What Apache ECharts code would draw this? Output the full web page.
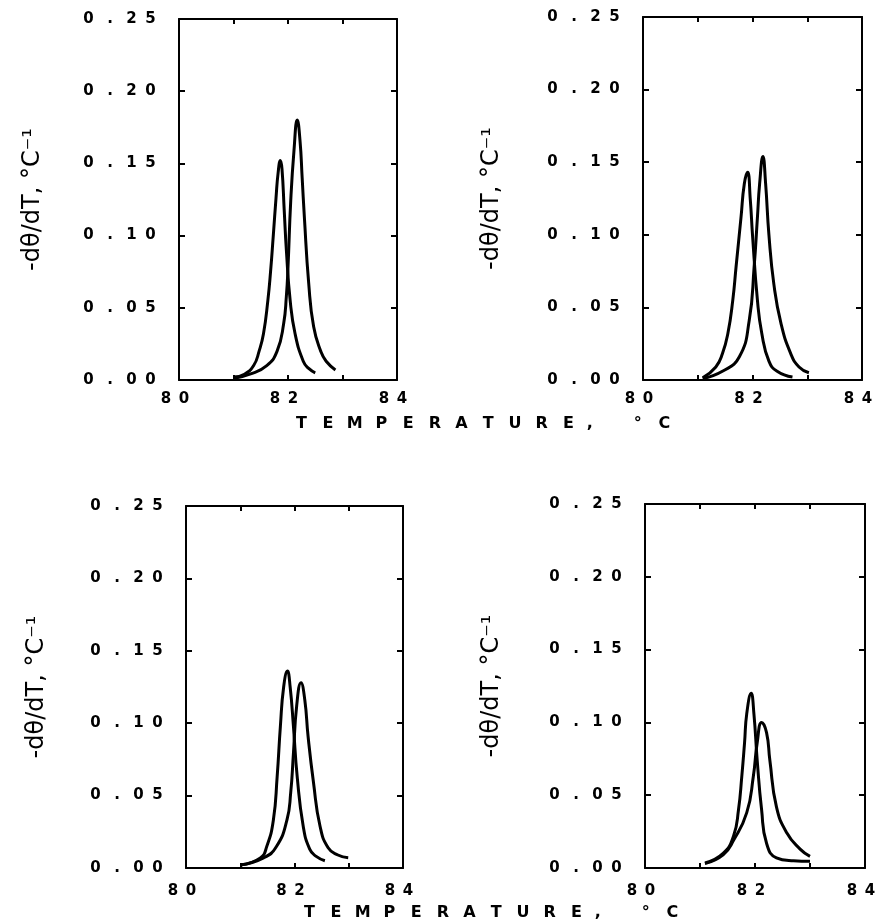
<!DOCTYPE html>
<html>
<head>
<meta charset="utf-8">
<script src="https://cdn.jsdelivr.net/npm/echarts@6/dist/echarts.min.js"></script>
<style>
  html, body { margin: 0; padding: 0; background: #fff; }
  #chart { width: 880px; height: 924px; }
</style>
</head>
<body>
<div id="chart"></div>
<script>
// ---- data: [temperature (°C), -dθ/dT (°C^-1)] ----
const p1_a = [[81.0,0.002],[81.2,0.004],[81.37,0.010],[81.47,0.020],[81.55,0.032],[81.63,0.055],[81.68,0.075],[81.73,0.100],[81.78,0.126],[81.82,0.144],[81.86,0.152],[81.89,0.146],[81.93,0.118],[81.97,0.090],[82.04,0.055],[82.13,0.032],[82.28,0.013],[82.38,0.008],[82.5,0.005]];
const p1_b = [[81.0,0.001],[81.3,0.004],[81.61,0.010],[81.8,0.020],[81.92,0.039],[81.97,0.058],[82.0,0.078],[82.05,0.124],[82.11,0.159],[82.17,0.180],[82.22,0.166],[82.26,0.140],[82.3,0.113],[82.38,0.067],[82.47,0.037],[82.6,0.020],[82.7,0.013],[82.87,0.007]];
const p2_a = [[81.09,0.0015],[81.33,0.009],[81.45,0.018],[81.55,0.032],[81.64,0.055],[81.7,0.078],[81.79,0.112],[81.85,0.135],[81.91,0.143],[81.96,0.124],[82.0,0.100],[82.09,0.055],[82.17,0.032],[82.3,0.013],[82.45,0.006],[82.73,0.002]];
const p2_b = [[81.09,0.001],[81.45,0.006],[81.76,0.016],[81.94,0.041],[82.03,0.078],[82.09,0.112],[82.13,0.135],[82.19,0.154],[82.24,0.135],[82.3,0.100],[82.39,0.066],[82.52,0.039],[82.7,0.018],[82.85,0.009],[83.03,0.005]];
const p3_a = [[81.0,0.002],[81.37,0.007],[81.49,0.015],[81.61,0.033],[81.68,0.063],[81.74,0.098],[81.8,0.125],[81.87,0.136],[81.92,0.125],[81.98,0.098],[82.05,0.063],[82.16,0.029],[82.28,0.013],[82.4,0.008],[82.56,0.005]];
const p3_b = [[81.0,0.002],[81.43,0.007],[81.67,0.015],[81.86,0.033],[81.93,0.052],[81.98,0.079],[82.04,0.112],[82.12,0.128],[82.19,0.116],[82.25,0.091],[82.35,0.059],[82.47,0.029],[82.62,0.014],[82.8,0.009],[82.99,0.007]];
const p4_a = [[81.09,0.0034],[81.42,0.010],[81.61,0.022],[81.7,0.040],[81.76,0.063],[81.81,0.086],[81.85,0.106],[81.93,0.120],[81.98,0.106],[82.04,0.074],[82.12,0.040],[82.21,0.017],[82.39,0.007],[82.7,0.005],[83.0,0.0046]];
const p4_b = [[81.09,0.003],[81.42,0.009],[81.61,0.019],[81.85,0.038],[81.97,0.063],[82.04,0.086],[82.12,0.100],[82.21,0.093],[82.27,0.074],[82.39,0.042],[82.58,0.024],[82.82,0.013],[83.0,0.008]];

const xTickLabels = ['80', '82', '84'];
const yTickLabels = ['0.00', '0.05', '0.10', '0.15', '0.20', '0.25'];
const xTitle = 'TEMPERATURE, °C';
const yTitle = '-dθ/dT, °C⁻¹';

// ---- layout ----
const panels = [
  { grid: { left: 179, top: 19, width: 218, height: 361 }, nameGap: 134, xMargin: 12, curves: [p1_a, p1_b] },
  { grid: { left: 643, top: 17, width: 219, height: 363 }, nameGap: 139, xMargin: 12, curves: [p2_a, p2_b] },
  { grid: { left: 186, top: 506, width: 217, height: 362 }, nameGap: 137, xMargin: 16, curves: [p3_a, p3_b] },
  { grid: { left: 645, top: 504, width: 220, height: 364 }, nameGap: 141, xMargin: 16, curves: [p4_a, p4_b] }
];

function cells(str, style) {
  return str.split('').map(ch => '{' + (ch === '.' ? style + 'p' : style) + '|' + ch + '}').join('');
}
function xCells(str) {
  return str.split('').map((ch, k) => '{' + (k === str.length - 1 ? 'xl' : 'x') + '|' + ch + '}').join('');
}

const tickFont = { fontFamily: 'DejaVu Sans', fontWeight: 'bold', fontSize: 15, color: '#000', align: 'center' };
const richTicks = {
  y: Object.assign({ width: 19 }, tickFont),
  yp: Object.assign({ width: 24 }, tickFont),
  x: Object.assign({ width: 18 }, tickFont),
  xl: Object.assign({ width: 18, padding: [0, 8, 0, 0] }, tickFont)
};

const lineCol = '#000';
const grids = [], xAxes = [], yAxes = [], series = [];

panels.forEach((p, i) => {
  grids.push(Object.assign({ containLabel: false }, p.grid));
  const baseX = {
    type: 'value', gridIndex: i, min: 80, max: 84, interval: 1,
    axisLine: { show: true, onZero: false, lineStyle: { color: lineCol, width: 2 } },
    axisTick: { show: true, inside: true, length: 5, lineStyle: { color: lineCol, width: 2 } },
    splitLine: { show: false }
  };
  xAxes.push(Object.assign({}, baseX, {
    position: 'bottom',
    axisLabel: {
      show: true, margin: p.xMargin,
      formatter: v => {
        const s = String(Math.round(v));
        return xTickLabels.indexOf(s) >= 0 ? xCells(s) : '';
      },
      rich: richTicks
    }
  }));
  xAxes.push(Object.assign({}, baseX, { position: 'top', axisLabel: { show: false } }));
  const baseY = {
    type: 'value', gridIndex: i, min: 0, max: 0.25, interval: 0.05,
    axisLine: { show: true, onZero: false, lineStyle: { color: lineCol, width: 2 } },
    axisTick: { show: true, inside: true, length: 6, lineStyle: { color: lineCol, width: 2 } },
    splitLine: { show: false }
  };
  yAxes.push(Object.assign({}, baseY, {
    position: 'left',
    name: yTitle, nameLocation: 'middle', nameRotate: 90, nameGap: p.nameGap,
    nameTextStyle: { fontFamily: 'DejaVu Sans', fontSize: 24, color: '#000' },
    axisLabel: {
      show: true, margin: 19,
      formatter: v => cells(yTickLabels[Math.round(v / 0.05)] || '', 'y'),
      rich: richTicks
    }
  }));
  yAxes.push(Object.assign({}, baseY, { position: 'right', axisLabel: { show: false } }));
  p.curves.forEach(c => {
    series.push({
      type: 'line', xAxisIndex: 2 * i, yAxisIndex: 2 * i, data: c,
      showSymbol: false, smooth: 0.5,
      lineStyle: { color: '#000', width: 3 }, silent: true
    });
  });
});

const titleRich = {
  t: { width: 26.7, align: 'center', fontFamily: 'DejaVu Sans', fontSize: 16, color: '#000' },
  tc: { width: 16, align: 'left', fontFamily: 'DejaVu Sans', fontSize: 16, color: '#000' }
};
function titleCells(str) {
  return str.split('').map(ch => '{' + (ch === ',' ? 'tc' : 't') + '|' + ch + '}').join('');
}

const chart = echarts.init(document.getElementById('chart'), null, { renderer: 'canvas' });
chart.setOption({
  backgroundColor: '#fff',
  animation: false,
  title: [
    { text: titleCells(xTitle), left: 288, top: 416, padding: 0, textStyle: { rich: titleRich } },
    { text: titleCells(xTitle), left: 296, top: 905, padding: 0, textStyle: { rich: titleRich } }
  ],
  grid: grids,
  xAxis: xAxes,
  yAxis: yAxes,
  series: series
});
</script>
</body>
</html>
